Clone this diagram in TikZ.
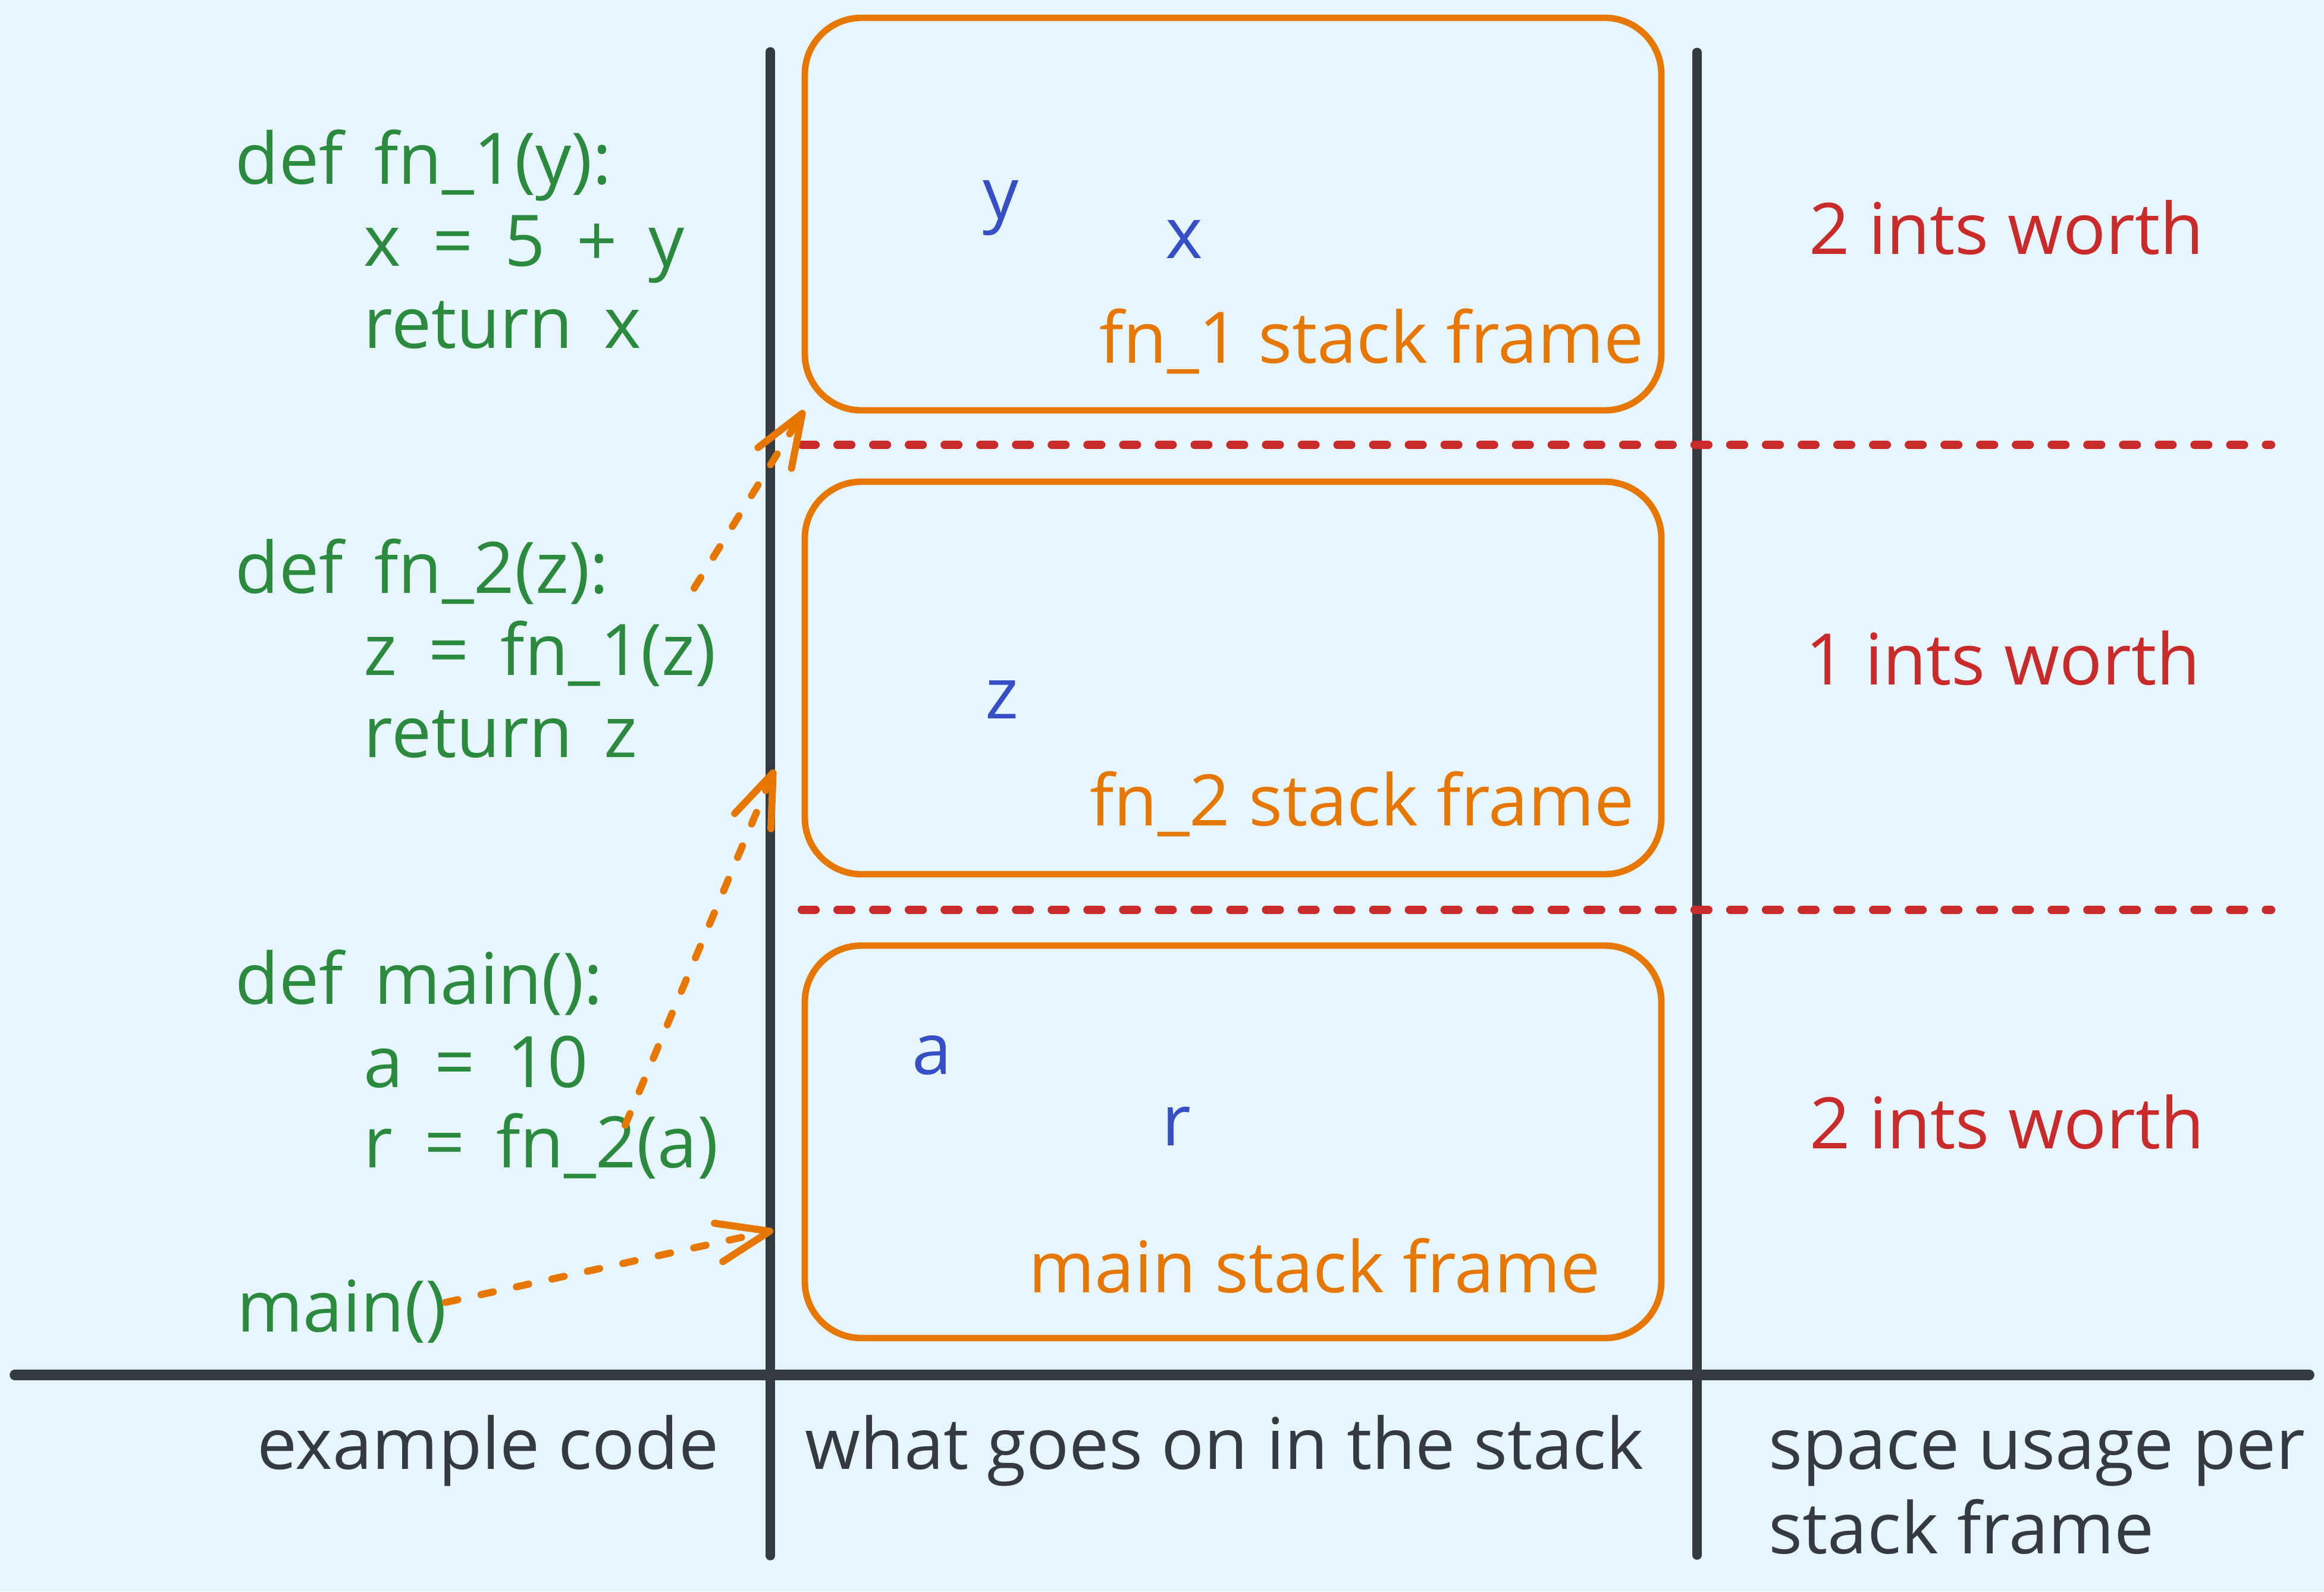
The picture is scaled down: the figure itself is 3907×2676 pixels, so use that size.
\documentclass[tikz,border=0pt]{standalone}
\usepackage{fontspec}
\setmainfont{Open Sans}
\newfontfamily\codefont{Open Sans}[WordSpace=1.7]
\usetikzlibrary{arrows.meta,positioning}
\definecolor{bgblue}{HTML}{E7F5FF}
\definecolor{codegreen}{HTML}{2B8A3E}
\definecolor{varblue}{HTML}{364FC7}
\definecolor{frameorange}{HTML}{E67700}
\definecolor{usagered}{HTML}{C92A2A}
\definecolor{axisdark}{HTML}{343A40}
\begin{document}
\begin{tikzpicture}[x=0.01cm, y=-0.01cm,
  every node/.style={font=\fontsize{34}{40}\selectfont, inner sep=0pt},
  code/.style={text=codegreen, anchor=base west, font=\codefont\fontsize{34}{40}\selectfont},
  var/.style={text=varblue, anchor=base},
  framelbl/.style={text=frameorange, anchor=base east},
  usage/.style={text=usagered, anchor=base west},
  axislbl/.style={text=axisdark},
  frame/.style={draw=frameorange, line width=3.1pt, rounded corners=0.95cm},
  axis/.style={draw=axisdark, line width=4.4pt, line cap=round},
  divider/.style={draw=usagered, line width=4pt, line cap=round,
    dash pattern=on 0.23cm off 0.37cm},
  call/.style={draw=frameorange, line width=3.4pt, line cap=round,
    dash pattern=on 0.21cm off 0.4cm,
    -{Straight Barb[round, length=0.88cm, width=0.66cm]}}]
  \fill[bgblue] (0,0) rectangle (3907,2676);
  \useasboundingbox (0,0) rectangle (3907,2676);

  % columns
  \draw[axis] (1295,87) -- (1295,2616);
  \draw[axis] (2853,88) -- (2853,2615);
  \draw[axis, line width=5pt] (25,2312) -- (3882,2312);

  % stack frames
  \draw[frame] (1353,30) rectangle (2793,690);
  \draw[frame] (1353,810) rectangle (2793,1470);
  \draw[frame] (1353,1590) rectangle (2793,2250);
  \draw[divider] (1348,748) -- (3818,748);
  \draw[divider] (1348,1530) -- (3818,1530);

  % example code
  \node[code] (fnonedef) at (395,310) {def fn\_1(y):};
  \node[code] (fnonebody) at (611,447) {x = 5 + y};
  \node[code] (fnoneret) at (611,585) {return x};
  \node[code] (fntwodef) at (395,997) {def fn\_2(z):};
  \node[code] (fntwobody) at (611,1135) {z = fn\_1(z)};
  \node[code] (fntworet) at (611,1273) {return z};
  \node[code] (maindef) at (395,1688) {def main():};
  \node[code] (mainbody) at (611,1828) {a = 10};
  \node[code] (maincallfn) at (611,1963) {r = fn\_2(a)};
  \node[code] (maincall) at (398,2239) {main()};

  % locals
  \node[var] (vary) at (1683,368) {y};
  \node[var] (varx) at (1991,435) {x};
  \node[var] (varz) at (1684,1208) {z};
  \node[var] (vara) at (1567,1806) {a};
  \node[var] (varr) at (1978,1926) {r};

  \node[framelbl] (fnonelbl) at (2764,610) {fn\_1 stack frame};
  \node[framelbl] (fntwolbl) at (2748,1388) {fn\_2 stack frame};
  \node[framelbl] (mainlbl) at (2691,2173) {main stack frame};

  % space usage
  \node[usage] (fnoneuse) at (3041,428) {2 ints worth};
  \node[usage] (fntwouse) at (3035,1151) {1 ints worth};
  \node[usage] (mainuse) at (3042,1931) {2 ints worth};

  % column titles
  \node[axislbl, anchor=base east] (codettl) at (1209,2470) {example code};
  \node[axislbl, anchor=base west] (stackttl) at (1353,2470) {what goes on in the stack};
  \node[axislbl, anchor=base west] (usettl) at (2973,2470) {space usage per};
  \node[axislbl, below=1.42cm of usettl.base west, anchor=base west] (usettltwo) {stack frame};

  % calls
  \coordinate (callonefrom) at (1167,989);
  \coordinate (calloneto) at (1352,690);
  \coordinate (calltwofrom) at (1051,1892);
  \coordinate (calltwoto) at (1302,1294);
  \coordinate (callmainfrom) at (749,2190);
  \coordinate (callmainto) at (1300,2069);
  \draw[call] (callonefrom) -- (calloneto);
  \draw[call] (calltwofrom) -- (calltwoto);
  \draw[call] (callmainfrom) -- (callmainto);
\end{tikzpicture}
\end{document}
